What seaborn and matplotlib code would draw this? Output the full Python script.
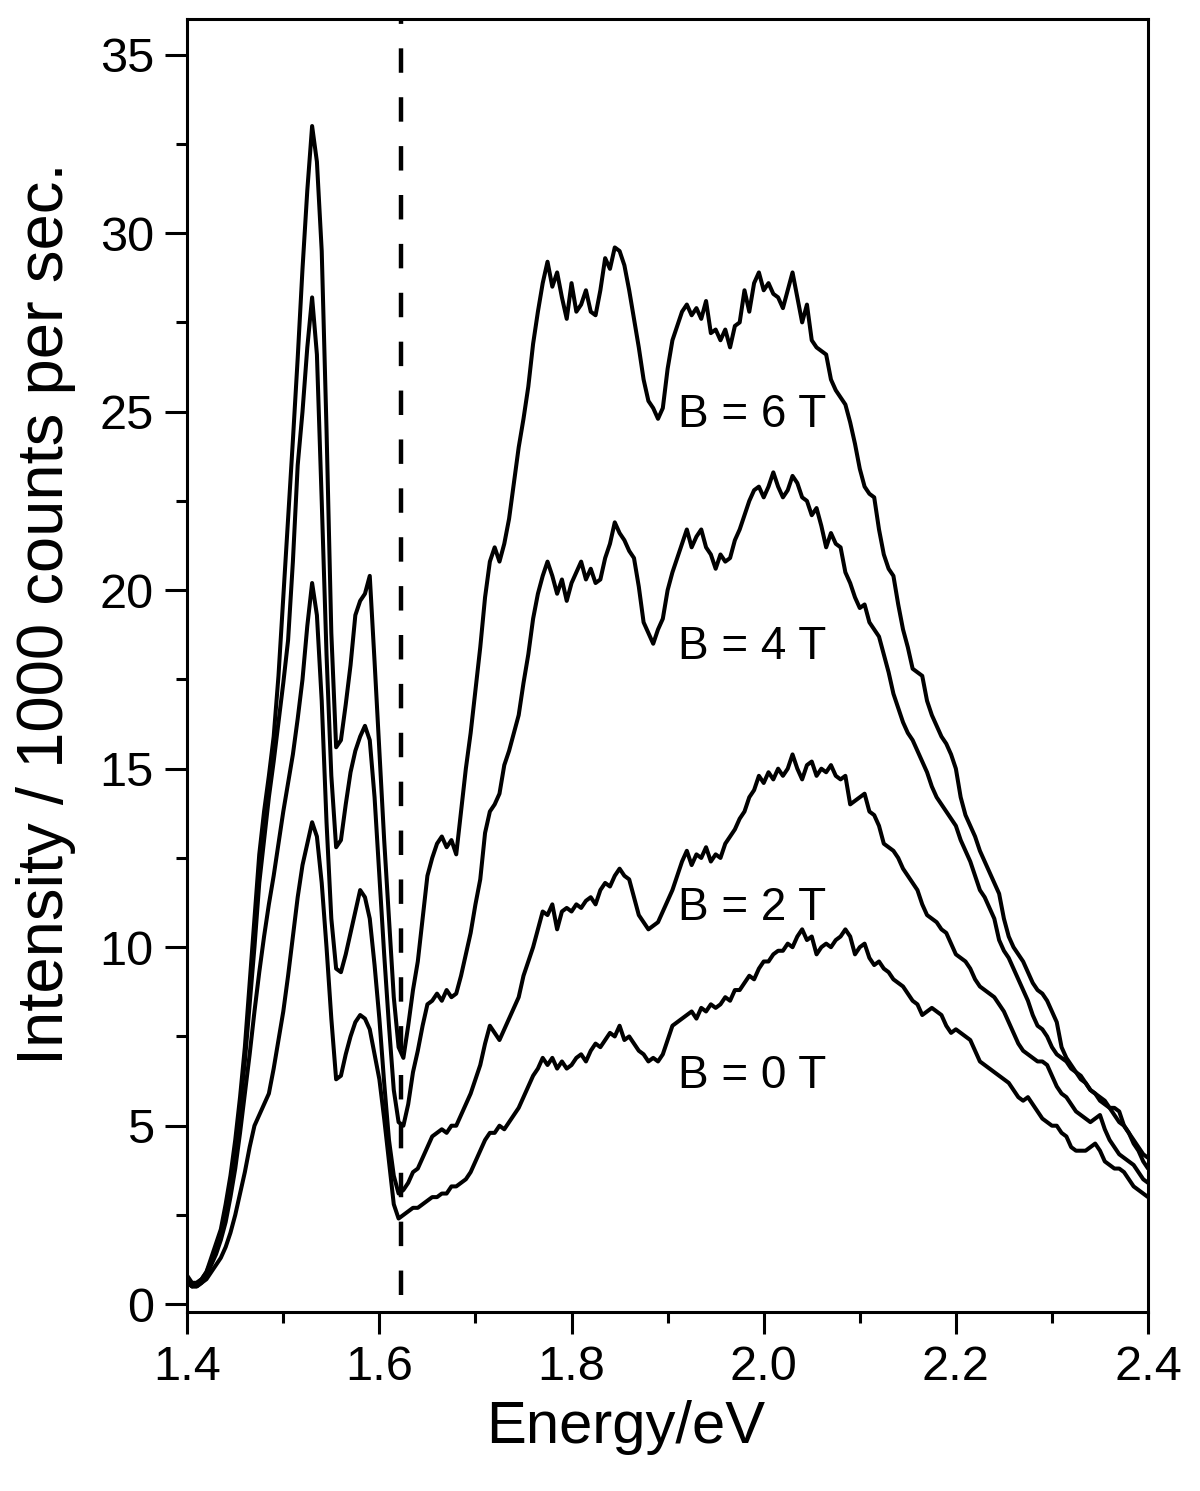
import numpy as np
import pandas as pd
import matplotlib
matplotlib.use("Agg")
import matplotlib.pyplot as plt
from matplotlib.ticker import MultipleLocator
import seaborn as sns

# energy grid: 1.400 .. 2.400 eV in 0.005 eV steps (rows of 10 below)
e_start, e_step = 1.40, 0.005

# intensity / 1000 cps
b6 = [0.8, 0.6, 0.6, 0.7, 0.9, 1.3, 1.7, 2.1, 2.8, 3.6,
      4.6, 5.8, 7.2, 9.0, 10.8, 12.6, 13.8, 14.8, 15.9, 17.6,
      19.8, 22.0, 24.2, 26.5, 29.0, 31.2, 33.0, 32.0, 29.5, 24.5,
      18.8, 15.6, 15.8, 16.8, 17.9, 19.3, 19.7, 19.9, 20.4, 18.0,
      15.5, 13.0, 10.8, 8.6, 7.2, 6.9, 7.8, 8.8, 9.6, 10.8,
      12.0, 12.5, 12.9, 13.1, 12.8, 13.0, 12.6, 13.8, 15.0, 16.0,
      17.2, 18.4, 19.8, 20.8, 21.2, 20.8, 21.3, 22.0, 23.0, 24.0,
      24.8, 25.7, 26.9, 27.8, 28.6, 29.2, 28.5, 28.9, 28.2, 27.6,
      28.6, 27.8, 28.0, 28.4, 27.8, 27.7, 28.4, 29.3, 29.0, 29.6,
      29.5, 29.1, 28.4, 27.6, 26.8, 25.9, 25.3, 25.1, 24.8, 25.1,
      26.2, 27.0, 27.4, 27.8, 28.0, 27.7, 27.9, 27.6, 28.1, 27.2,
      27.3, 27.0, 27.3, 26.8, 27.4, 27.5, 28.4, 27.8, 28.6, 28.9,
      28.4, 28.6, 28.3, 28.2, 27.9, 28.4, 28.9, 28.2, 27.5, 28.0,
      27.0, 26.8, 26.7, 26.6, 25.9, 25.6, 25.4, 25.2, 24.7, 24.1,
      23.4, 22.9, 22.7, 22.6, 21.7, 21.0, 20.6, 20.4, 19.6, 18.9,
      18.4, 17.8, 17.7, 17.6, 16.9, 16.5, 16.2, 15.9, 15.7, 15.4,
      15.0, 14.2, 13.7, 13.4, 13.1, 12.7, 12.4, 12.1, 11.8, 11.5,
      10.8, 10.3, 10.0, 9.8, 9.6, 9.3, 9.0, 8.8, 8.7, 8.5,
      8.2, 7.9, 7.2, 6.9, 6.7, 6.5, 6.3, 6.2, 6.0, 5.9,
      5.8, 5.7, 5.5, 5.5, 5.4, 5.0, 4.8, 4.6, 4.4, 4.2,
      4.1]

b4 = [0.7, 0.5, 0.6, 0.7, 0.9, 1.2, 1.6, 2.0, 2.6, 3.4,
      4.3, 5.5, 6.8, 8.4, 10.0, 11.8, 13.0, 14.2, 15.2, 16.3,
      17.4, 18.6, 20.8, 23.5, 25.0, 26.8, 28.2, 26.6, 22.5, 18.2,
      14.8, 12.8, 13.0, 14.0, 14.9, 15.5, 15.9, 16.2, 15.8, 14.2,
      12.0, 9.8, 7.8, 6.0, 5.1, 5.0, 5.6, 6.5, 7.1, 7.8,
      8.4, 8.5, 8.7, 8.5, 8.8, 8.6, 8.7, 9.2, 9.8, 10.4,
      11.2, 11.9, 13.2, 13.8, 14.0, 14.3, 15.1, 15.5, 16.0, 16.5,
      17.4, 18.2, 19.2, 19.9, 20.4, 20.8, 20.4, 19.9, 20.3, 19.7,
      20.2, 20.5, 20.8, 20.3, 20.6, 20.2, 20.3, 20.9, 21.3, 21.9,
      21.6, 21.4, 21.1, 20.9, 20.1, 19.1, 18.8, 18.5, 18.9, 19.2,
      20.0, 20.5, 20.9, 21.3, 21.7, 21.2, 21.5, 21.7, 21.2, 21.0,
      20.6, 21.0, 20.8, 20.9, 21.4, 21.7, 22.1, 22.5, 22.8, 22.9,
      22.6, 22.9, 23.3, 22.9, 22.6, 22.8, 23.2, 23.0, 22.6, 22.5,
      22.1, 22.3, 21.8, 21.2, 21.6, 21.3, 21.2, 20.5, 20.2, 19.8,
      19.5, 19.6, 19.1, 18.9, 18.7, 18.2, 17.7, 17.1, 16.7, 16.3,
      16.0, 15.8, 15.5, 15.2, 14.9, 14.5, 14.2, 14.0, 13.8, 13.6,
      13.4, 13.0, 12.7, 12.4, 12.0, 11.6, 11.4, 11.1, 10.8, 10.2,
      9.9, 9.7, 9.4, 9.1, 8.8, 8.5, 8.1, 7.8, 7.7, 7.5,
      7.2, 7.0, 6.9, 6.8, 6.6, 6.5, 6.4, 6.2, 6.0, 5.9,
      5.7, 5.6, 5.5, 5.3, 5.1, 5.0, 4.8, 4.5, 4.3, 4.0,
      3.8]

b2 = [0.7, 0.5, 0.5, 0.6, 0.8, 1.1, 1.4, 1.8, 2.3, 3.0,
      3.8, 4.8, 5.9, 7.0, 8.2, 9.3, 10.3, 11.2, 12.0, 12.9,
      13.8, 14.6, 15.4, 16.4, 17.5, 19.0, 20.2, 19.3, 16.9, 13.5,
      10.8, 9.4, 9.3, 9.8, 10.4, 11.0, 11.6, 11.4, 10.8, 9.5,
      8.0, 6.2, 4.6, 3.6, 3.1, 3.2, 3.4, 3.7, 3.8, 4.1,
      4.4, 4.7, 4.8, 4.9, 4.8, 5.0, 5.0, 5.3, 5.6, 5.9,
      6.3, 6.7, 7.3, 7.8, 7.6, 7.4, 7.7, 8.0, 8.3, 8.6,
      9.2, 9.6, 10.0, 10.5, 11.0, 10.9, 11.2, 10.5, 11.0, 11.1,
      11.0, 11.2, 11.1, 11.3, 11.4, 11.2, 11.6, 11.8, 11.7, 12.0,
      12.2, 12.0, 11.9, 11.4, 10.9, 10.7, 10.5, 10.6, 10.7, 11.0,
      11.3, 11.6, 12.0, 12.4, 12.7, 12.3, 12.6, 12.5, 12.8, 12.4,
      12.6, 12.5, 12.9, 13.1, 13.3, 13.6, 13.8, 14.2, 14.4, 14.8,
      14.6, 14.9, 14.7, 15.0, 14.8, 15.0, 15.4, 15.0, 14.7, 15.1,
      15.2, 14.8, 15.0, 14.9, 15.1, 14.8, 14.7, 14.8, 14.0, 14.1,
      14.2, 14.3, 13.8, 13.7, 13.4, 12.9, 12.8, 12.7, 12.5, 12.2,
      12.0, 11.8, 11.6, 11.2, 10.9, 10.8, 10.7, 10.5, 10.4, 10.1,
      9.8, 9.7, 9.6, 9.4, 9.1, 8.9, 8.8, 8.7, 8.6, 8.4,
      8.2, 7.9, 7.6, 7.3, 7.1, 7.0, 6.9, 6.8, 6.8, 6.7,
      6.4, 6.1, 5.9, 5.8, 5.6, 5.4, 5.3, 5.2, 5.1, 5.2,
      5.3, 4.9, 4.6, 4.4, 4.2, 4.1, 4.0, 3.9, 3.7, 3.5,
      3.4]

b0 = [0.6, 0.5, 0.5, 0.6, 0.7, 0.9, 1.1, 1.3, 1.6, 2.0,
      2.5, 3.1, 3.7, 4.4, 5.0, 5.3, 5.6, 5.9, 6.6, 7.4,
      8.2, 9.2, 10.3, 11.4, 12.3, 12.9, 13.5, 13.1, 11.8, 10.0,
      8.0, 6.3, 6.4, 7.0, 7.5, 7.9, 8.1, 8.0, 7.7, 7.0,
      6.3, 5.2, 4.0, 2.8, 2.4, 2.5, 2.6, 2.7, 2.7, 2.8,
      2.9, 3.0, 3.0, 3.1, 3.1, 3.3, 3.3, 3.4, 3.5, 3.7,
      4.0, 4.3, 4.6, 4.8, 4.8, 5.0, 4.9, 5.1, 5.3, 5.5,
      5.8, 6.1, 6.4, 6.6, 6.9, 6.7, 6.9, 6.6, 6.8, 6.6,
      6.7, 6.9, 7.0, 6.8, 7.1, 7.3, 7.2, 7.4, 7.6, 7.5,
      7.8, 7.4, 7.5, 7.3, 7.1, 7.0, 6.8, 6.9, 6.8, 7.0,
      7.4, 7.8, 7.9, 8.0, 8.1, 8.2, 8.0, 8.3, 8.2, 8.4,
      8.3, 8.4, 8.6, 8.5, 8.8, 8.8, 9.0, 9.2, 9.1, 9.4,
      9.6, 9.6, 9.8, 9.9, 9.9, 10.1, 10.0, 10.3, 10.5, 10.2,
      10.3, 9.8, 10.0, 10.1, 10.0, 10.2, 10.3, 10.5, 10.3, 9.8,
      10.0, 10.1, 9.7, 9.5, 9.6, 9.4, 9.3, 9.1, 9.0, 8.9,
      8.7, 8.5, 8.4, 8.1, 8.2, 8.3, 8.2, 8.1, 7.8, 7.6,
      7.7, 7.6, 7.5, 7.4, 7.1, 6.8, 6.7, 6.6, 6.5, 6.4,
      6.3, 6.2, 6.0, 5.8, 5.7, 5.8, 5.6, 5.4, 5.2, 5.1,
      5.0, 5.0, 4.8, 4.7, 4.4, 4.3, 4.3, 4.3, 4.4, 4.5,
      4.3, 4.0, 3.9, 3.8, 3.8, 3.7, 3.5, 3.3, 3.2, 3.1,
      3.0]

series = {"B = 6 T": b6, "B = 4 T": b4, "B = 2 T": b2, "B = 0 T": b0}
label_y = {"B = 6 T": 24.9, "B = 4 T": 18.4, "B = 2 T": 11.1, "B = 0 T": 6.4}
label_x = 1.911
e_mark = 1.623

sns.set_style("ticks")
plt.rcParams["font.family"] = ["Liberation Sans", "DejaVu Sans"]
plt.rcParams.update({"text.color": "black", "axes.labelcolor": "black",
                     "xtick.color": "black", "ytick.color": "black",
                     "axes.edgecolor": "black"})

fig = plt.figure(figsize=(12, 14.91), dpi=100)
ax = fig.add_axes([0.156, 0.12, 0.8007, 0.8673])

for name, vals in series.items():
    energy = e_start + e_step * np.arange(len(vals))
    df = pd.DataFrame({"E": energy, "I": vals})
    sns.lineplot(data=df, x="E", y="I", color="black", lw=2.9,
                 estimator=None, ax=ax)
    ax.text(label_x, label_y[name], name, fontsize=33, ha="left", va="center")

ax.plot([e_mark, e_mark], [0.25, 36], color="black", lw=3.2,
        dashes=(5.5, 5.5))

ax.set_xlim(1.4, 2.4)
ax.set_ylim(-0.22, 36)
ax.xaxis.set_major_locator(MultipleLocator(0.2))
ax.xaxis.set_minor_locator(MultipleLocator(0.1))
ax.yaxis.set_major_locator(MultipleLocator(5))
ax.yaxis.set_minor_locator(MultipleLocator(2.5))
ax.set_xticks([1.4, 1.6, 1.8, 2.0, 2.2, 2.4])
ax.set_xticklabels(["1.4", "1.6", "1.8", "2.0", "2.2", "2.4"])

ax.tick_params(axis="both", which="major", direction="out", length=16,
               width=2.2, labelsize=35, pad=8)
ax.tick_params(axis="both", which="minor", direction="out", length=8,
               width=2.2)
ax.tick_params(top=False, right=False, which="both")
for s in ax.spines.values():
    s.set_linewidth(2.2)
    s.set_visible(True)

ax.set_xlabel("Energy/eV", fontsize=43)
ax.set_ylabel("Intensity / 1000 counts per sec.", fontsize=47)
ax.xaxis.set_label_coords(0.456, -0.068)
ax.yaxis.set_label_coords(-0.116, 0.54)

fig.savefig("out.png", dpi=100)
